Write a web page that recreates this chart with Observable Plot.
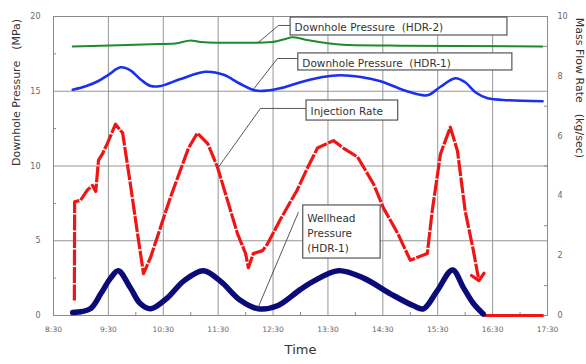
<!DOCTYPE html>
<html>
<head>
<meta charset="utf-8">
<script src="https://cdn.jsdelivr.net/npm/d3@7"></script>
<script src="https://cdn.jsdelivr.net/npm/@observablehq/plot@0.6"></script>
<style>
  html, body { margin: 0; padding: 0; background: #fff; }
  #chart svg { display: block; }
</style>
</head>
<body>
<div id="chart"></div>
<script>
// ---- Data (time in decimal hours) ----
const xTicks = [8.5, 9.5, 10.5, 11.5, 12.5, 13.5, 14.5, 15.5, 16.5, 17.5];
const xLabels = ["8:30", "9:30", "10:30", "11:30", "12:30", "13:30", "14:30", "15:30", "16:30", "17:30"];
const pressureTicks = [0, 5, 10, 15, 20];
const flowTicks = [0, 2, 4, 6, 8, 10];
const flowMinorTicks = [1, 3, 5, 7, 9];

// Downhole Pressure (HDR-2), MPa
const greenT = [8.85, 9.36, 10.27, 10.72, 11.0, 11.18, 11.46, 12.18, 12.49, 12.73, 12.85, 13.09, 13.86, 14.82, 17.41];
const greenP = [18.0, 18.05, 18.15, 18.2, 18.4, 18.3, 18.25, 18.25, 18.3, 18.5, 18.62, 18.45, 18.1, 18.05, 18.0];

// Downhole Pressure (HDR-1), MPa
const blueT = [8.85, 9.1, 9.3, 9.5, 9.72, 9.9, 10.1, 10.27, 10.45, 10.8, 11.27, 11.6, 11.9, 12.18, 12.4, 12.63, 13.0, 13.4, 13.73, 14.1, 14.46, 14.9, 15.31, 15.55, 15.82, 16.0, 16.2, 16.41, 16.8, 17.41];
const blueP = [15.1, 15.35, 15.65, 16.1, 16.6, 16.4, 15.75, 15.35, 15.35, 15.8, 16.3, 16.1, 15.5, 15.05, 15.05, 15.2, 15.6, 15.95, 16.07, 15.95, 15.67, 15.05, 14.73, 15.3, 15.87, 15.6, 14.9, 14.53, 14.4, 14.33];

// Wellhead Pressure (HDR-1), MPa
const navyT = [8.85, 9.17, 9.36, 9.54, 9.68, 9.9, 10.08, 10.27, 10.58, 10.87, 11.23, 11.54, 11.91, 12.23, 12.58, 13.0, 13.24, 13.69, 14.15, 14.64, 15.06, 15.24, 15.49, 15.77, 15.97, 16.15, 16.33];
const navyP = [0.2, 0.45, 1.45, 2.5, 3.0, 1.85, 0.8, 0.45, 1.2, 2.3, 3.0, 2.3, 1.0, 0.45, 0.65, 1.75, 2.3, 3.0, 2.5, 1.45, 0.65, 0.45, 1.65, 3.05, 1.85, 0.8, 0.1];

// Injection Rate, kg/sec (right axis)
const redT = [8.88, 8.885, 8.99, 9.12, 9.21, 9.27, 9.32, 9.39, 9.48, 9.63, 9.76, 9.9, 10.03, 10.14, 10.27, 10.45, 10.63, 10.81, 10.96, 11.12, 11.31, 11.49, 11.67, 11.85, 12.0, 12.05, 12.14, 12.31, 12.4, 12.63, 12.94, 13.13, 13.31, 13.6, 13.78, 14.04, 14.33, 14.51, 14.77, 15.0, 15.31, 15.4, 15.55, 15.73, 15.86, 16.0, 16.15, 16.24];
const redF = [0.5, 3.8, 3.85, 4.2, 4.35, 4.15, 5.2, 5.4, 5.75, 6.4, 6.1, 4.4, 2.75, 1.4, 1.95, 2.95, 3.95, 4.85, 5.6, 6.1, 5.75, 4.95, 3.85, 2.75, 2.07, 1.6, 2.07, 2.17, 2.4, 3.2, 4.2, 4.95, 5.6, 5.85, 5.6, 5.3, 4.4, 3.6, 2.75, 1.85, 2.07, 3.5, 5.4, 6.3, 5.5, 3.5, 2.17, 1.27];
const redZeroT = [16.37, 17.41];
const redZeroF = [0, 0];

// Annotations (boxes and leader lines in data units: hours, MPa)
const annLabels = ["Downhole Pressure  (HDR-2)", "Downhole Pressure  (HDR-1)", "Injection Rate", "Wellhead\nPressure\n(HDR-1)"];
const annX1 = [12.82, 12.96, 13.11, 13.05];
const annX2 = [16.77, 16.86, 14.78, 14.46];
const annY1 = [18.73, 16.39, 13.04, 3.81];
const annY2 = [19.93, 17.53, 14.38, 7.36];
const leaderId = [0, 0, 0, 1, 1, 1, 2, 2, 2, 3, 3];
const leaderT = [12.82, 12.60, 12.23, 12.96, 12.58, 12.14, 13.11, 12.27, 11.5, 12.96, 12.22];
const leaderP = [19.40, 19.40, 18.26, 17.19, 17.19, 15.12, 13.85, 13.85, 9.9, 6.89, 0.47];

// ---- Build tables ----
const K = 20 / 10; // left (MPa) domain / right (kg/sec) domain
const green = greenT.map((t, i) => ({t, v: greenP[i]}));
const blue = blueT.map((t, i) => ({t, v: blueP[i]}));
const navy = navyT.map((t, i) => ({t, v: navyP[i]}));
const red = redT.map((t, i) => ({t, f: redF[i]}));
const redZero = redZeroT.map((t, i) => ({t, f: redZeroF[i]}));
const anns = annLabels.map((label, i) => ({label, x1: annX1[i], x2: annX2[i], y1: annY1[i], y2: annY2[i]}));
const leaders = leaderT.map((t, i) => ({id: leaderId[i], t, v: leaderP[i]}));
const xMinor = xTicks.slice(0, -1).map(d => d + 0.5);

const FONT = "DejaVu Sans";
const chart = Plot.plot({
  width: 586,
  height: 364,
  marginLeft: 53,
  marginRight: 39,
  marginTop: 16,
  marginBottom: 49,
  style: {fontFamily: FONT, background: "#fff", color: "#555"},
  x: {domain: [8.5, 17.5]},
  y: {domain: [0, 20]},
  marks: [
    Plot.gridX(xTicks, {stroke: "#8a8a8a", strokeOpacity: 1, strokeWidth: 0.9}),
    Plot.gridY([5, 10, 15], {stroke: "#8a8a8a", strokeOpacity: 1, strokeWidth: 0.9}),
    Plot.frame({stroke: "#8a8a8a", strokeWidth: 1}),
    Plot.axisX(xTicks, {tickSize: 0, tickPadding: 11, fontSize: 7.5, tickFormat: (d, i) => xLabels[i], label: null, fill: "#666"}),
    Plot.axisX(xMinor, {tickSize: -3, text: null, label: null, stroke: "#8a8a8a"}),
    Plot.axisY(pressureTicks, {tickSize: 0, tickPadding: 13, fontSize: 8, label: null, fill: "#666"}),
    Plot.axisY([2.5, 7.5, 12.5, 17.5], {tickSize: -3, text: null, label: null, stroke: "#8a8a8a"}),
    Plot.axisY(flowTicks.map(v => v * K), {anchor: "right", tickSize: 0, tickPadding: 10, fontSize: 8, label: null, tickFormat: d => String(d / K), fill: "#666"}),
    Plot.axisY(flowMinorTicks.map(v => v * K), {anchor: "right", tickSize: -4, text: null, label: null, stroke: "#8a8a8a"}),
    Plot.text(["Downhole Pressure\u3000(MPa)"], {frameAnchor: "left", dx: -37, rotate: -90, fontSize: 11, fill: "#333"}),
    Plot.text(["Mass Flow Rate\u3000(kg/sec)"], {frameAnchor: "right", dx: 32, dy: -8, rotate: 90, fontSize: 11, fill: "#333"}),
    Plot.text(["Time"], {frameAnchor: "bottom", dy: 38, fontSize: 13, fill: "#333"}),

    // series
    Plot.line(green, {x: "t", y: "v", stroke: "#1f8a2a", strokeWidth: 2, curve: "monotone-x"}),
    Plot.line(blue, {x: "t", y: "v", stroke: "#1a2ff0", strokeWidth: 2.6, curve: "catmull-rom"}),
    Plot.line(red, {x: "t", y: d => d.f * K, stroke: "#f01515", strokeWidth: 3.2, strokeDasharray: "16,1.5", strokeLinecap: "butt", markerEnd: "arrow"}),
    Plot.line(redZero, {x: "t", y: d => d.f * K, stroke: "#f01515", strokeWidth: 3}),
    Plot.line(navy, {x: "t", y: "v", stroke: "#0a0a78", strokeWidth: 5.5, curve: "catmull-rom"}),

    // annotations
    Plot.line(leaders, {x: "t", y: "v", z: "id", stroke: "#444", strokeWidth: 0.9}),
    Plot.rect(anns, {x1: "x1", x2: "x2", y1: "y1", y2: "y2", fill: "#fff", stroke: "#555", strokeWidth: 1.2}),
    Plot.text(anns, {x: "x1", y: d => (d.y1 + d.y2) / 2, text: "label", dx: 4, textAnchor: "start", fontSize: 10.5, fill: "#333", lineHeight: 1.45})
  ]
});
document.getElementById("chart").appendChild(chart);
</script>
</body>
</html>
